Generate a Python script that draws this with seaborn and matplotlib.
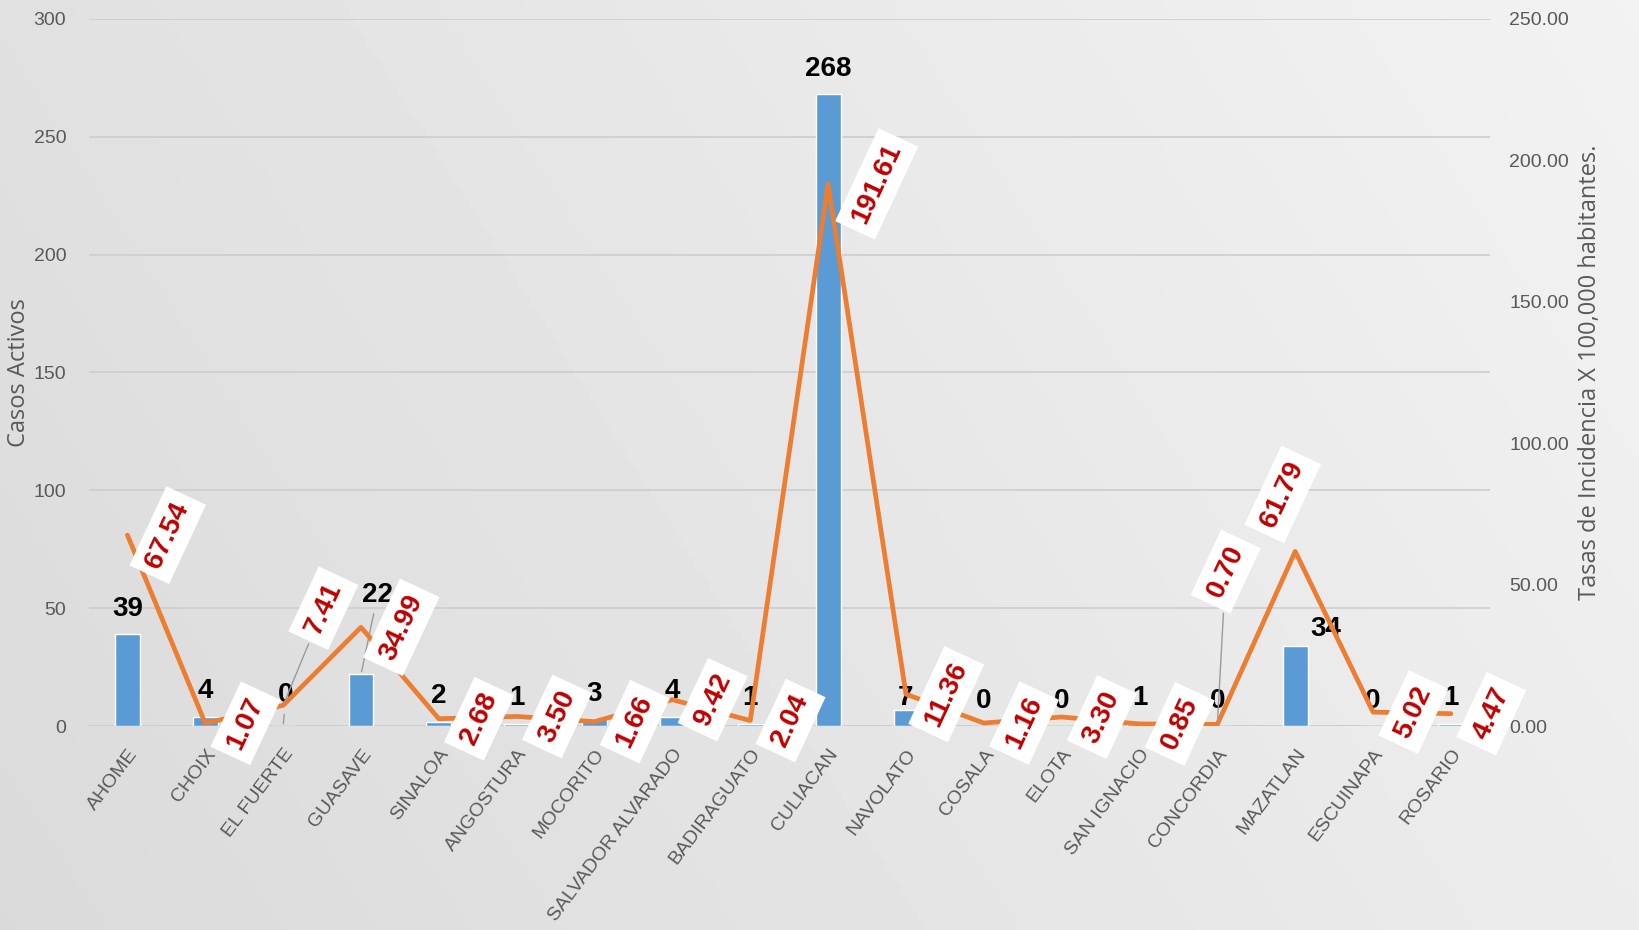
import numpy as np
import pandas as pd
import matplotlib
matplotlib.use("Agg")
import matplotlib.pyplot as plt
import seaborn as sns

# --- data ------------------------------------------------------------------
municipios = ["AHOME", "CHOIX", "EL FUERTE", "GUASAVE", "SINALOA", "ANGOSTURA",
              "MOCORITO", "SALVADOR ALVARADO", "BADIRAGUATO", "CULIACAN",
              "NAVOLATO", "COSALA", "ELOTA", "SAN IGNACIO", "CONCORDIA",
              "MAZATLAN", "ESCUINAPA", "ROSARIO"]
casos_activos = [39, 4, 0, 22, 2, 1, 3, 4, 1, 268, 7, 0, 0, 1, 0, 34, 0, 1]
tasas = [67.54, 1.07, 7.41, 34.99, 2.68, 3.50, 1.66, 9.42, 2.04, 191.61,
         11.36, 1.16, 3.30, 0.85, 0.70, 61.79, 5.02, 4.47]

left_ticks = [0, 50, 100, 150, 200, 250, 300]
right_ticks = [0, 50, 100, 150, 200, 250]

# hand nudges for labels that were moved in the original (points)
rate_label_nudge = {2: (0, 70), 14: (-23, 110), 15: (-38, 41), 9: (6, 0)}
bar_label_nudge = {3: (12, 39), 15: (22, -6), 10: (0, -10), 2: (2, 4)}

BAR_COLOR = "#5B9BD5"
LINE_COLOR = "#ED7D31"
LABEL_RED = "#C00000"
TICK_GRAY = "#595959"
NUM_FONT = ["Liberation Sans", "DejaVu Sans"]
TITLE_FONT = ["Open Sans", "DejaVu Sans"]

sns.set_theme(style="white")
plt.rcParams["font.family"] = NUM_FONT

df = pd.DataFrame({"municipio": municipios, "casos": casos_activos,
                   "tasa": tasas, "pos": np.arange(len(municipios))})

fig = plt.figure(figsize=(16.39, 9.30), dpi=100)

# soft grey backdrop, lighter towards the upper right
bg = fig.add_axes([0, 0, 1, 1], zorder=-10)
gx, gy = np.meshgrid(np.linspace(0, 1, 300), np.linspace(0, 1, 200))
shade = 0.855 + 0.07 * gx + 0.025 * (1 - gy)
bg.imshow(shade, cmap="gray", vmin=0, vmax=1, aspect="auto", extent=(0, 1, 0, 1))
bg.axis("off")

ax = fig.add_axes([0.054, 0.219, 0.855, 0.761])
ax.set_facecolor("none")

# bars: active cases
sns.barplot(data=df, x="pos", y="casos", color=BAR_COLOR, width=0.32,
            saturation=1, ax=ax, zorder=2)
ax.set_ylim(0, 300)
ax.set_xlim(-0.5, len(municipios) - 0.5)
ax.set_yticks(left_ticks)
ax.set_yticklabels([str(t) for t in left_ticks], color=TICK_GRAY, fontsize=14)
ax.set_xticks(df["pos"])
ax.set_xticklabels(municipios, rotation=53, ha="right", rotation_mode="anchor",
                   color=TICK_GRAY, fontsize=14)
ax.tick_params(axis="y", length=0, pad=16)
ax.tick_params(axis="x", length=0, pad=14)
ax.yaxis.grid(True, color="#cdcdcd", linewidth=1.2, zorder=0)
ax.set_axisbelow(True)
for s in ax.spines.values():
    s.set_visible(False)
ax.axhline(0, color="#cdcdcd", linewidth=1.2, zorder=1)
ax.set_xlabel("")
ax.set_ylabel("Casos Activos", color=TICK_GRAY, fontsize=17, family=TITLE_FONT)
ax.yaxis.set_label_coords(-0.041, 0.5)

# bar value labels
for i, v in enumerate(casos_activos):
    dx, dy = bar_label_nudge.get(i, (0, 0))
    arrow = dict(arrowstyle="-", color="#9a9a9a", lw=1) if i in (2, 3) else None
    ax.annotate(str(v), xy=(i, v), xytext=(dx, 9 + dy), textcoords="offset points",
                ha="center", va="bottom", fontsize=20, fontweight="bold",
                color="black", zorder=8, arrowprops=arrow)

# line: incidence rate on secondary axis
ax2 = ax.twinx()
sns.lineplot(data=df, x="pos", y="tasa", color=LINE_COLOR, linewidth=3.4,
             ax=ax2, zorder=3)
ax2.set_ylim(0, 250)
ax2.set_xlim(-0.5, len(municipios) - 0.5)
ax2.set_yticks(right_ticks)
ax2.set_yticklabels([f"{t:.2f}" for t in right_ticks], color=TICK_GRAY, fontsize=14)
ax2.tick_params(axis="y", length=0, pad=14)
for s in ax2.spines.values():
    s.set_visible(False)
ax2.grid(False)
ax2.set_xlabel("")
ax2.set_ylabel("Tasas de Incidencia X 100,000 habitantes.", color=TICK_GRAY,
               fontsize=17, family=TITLE_FONT)
ax2.yaxis.set_label_coords(1.063, 0.5)

for i, t in enumerate(tasas):
    dx, dy = rate_label_nudge.get(i, (0, 0))
    arrow = None
    if i in (2, 14):
        arrow = dict(arrowstyle="-", color="#9a9a9a", lw=1)
    ax2.annotate(f"{t:.2f}", xy=(i, t), xytext=(29 + dx, dy),
                 textcoords="offset points", ha="center", va="center",
                 rotation=65, fontsize=20, fontweight="bold", color=LABEL_RED,
                 bbox=dict(boxstyle="square,pad=0.32", fc="white", ec="none"),
                 zorder=7, arrowprops=arrow)

fig.savefig("out.png", dpi=100)
